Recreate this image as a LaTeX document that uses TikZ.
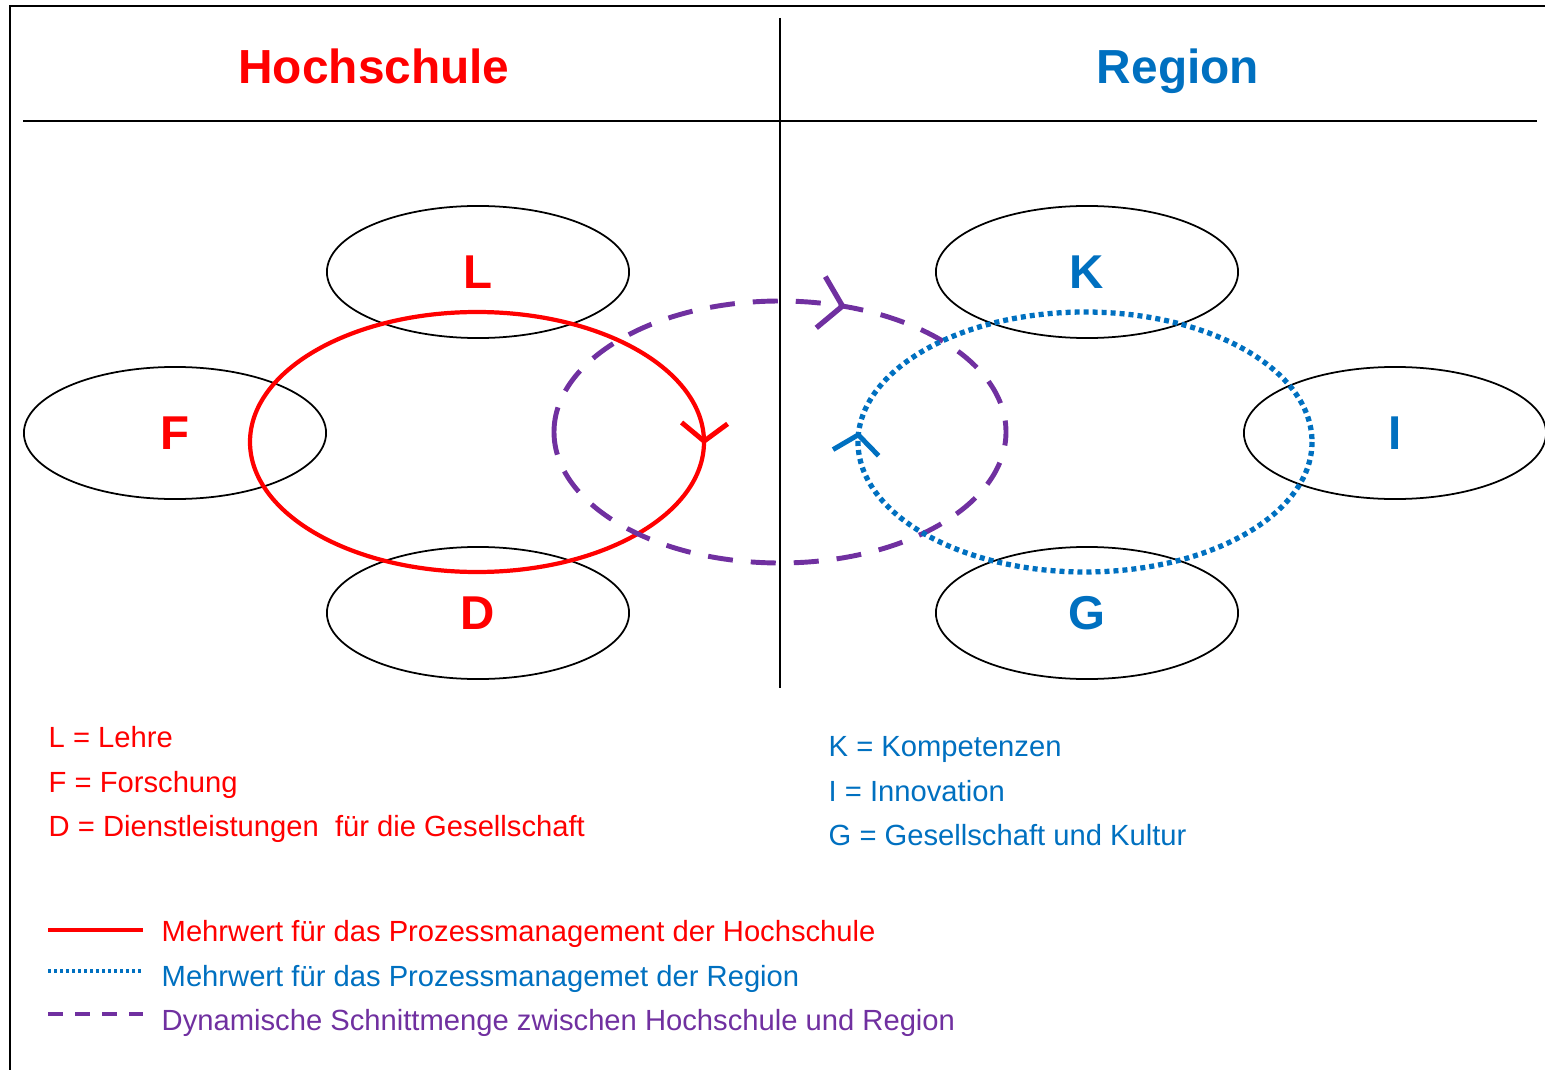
\documentclass[tikz,border=0pt]{standalone}
\usepackage{fontspec}
\setmainfont{Liberation Sans}
\usetikzlibrary{shapes.geometric,arrows.meta,decorations.markings}
\definecolor{hred}{RGB}{255,0,0}
\definecolor{rblue}{RGB}{0,112,192}
\definecolor{dpurple}{RGB}{112,48,160}
\tikzset{
  ell/.style={draw=black,line width=0.5pt,ellipse,minimum width=3.02cm,minimum height=1.32cm,inner sep=0pt,font=\fontsize{13.5}{16}\selectfont\bfseries},
  title/.style={anchor=base,inner sep=0pt,font=\fontsize{13.6}{16}\selectfont\bfseries},
  legtext/.style={anchor=base west,inner sep=0pt,font=\fontsize{8.3}{10}\selectfont},
  barb/.tip={Straight Barb[length=0.18cm,width=0.46cm,line width=1.4pt]},
  bigbarb/.tip={Straight Barb[length=0.22cm,width=0.52cm,line width=1.5pt]},
  redloop/.style={draw=hred,line width=1.2pt},
  blueloop/.style={draw=rblue,line width=1.5pt,dash pattern=on 0.05cm off 0.04cm},
  purpleloop/.style={draw=dpurple,line width=1.4pt,dash pattern=on 0.25cm off 0.18cm},
}
\begin{document}
\begin{tikzpicture}[x=0.01cm,y=0.01cm]
\useasboundingbox (0,0) rectangle (1545,-1070);
% frame and separators
\draw[line width=0.85pt] (10,-1070) -- (10,-6) -- (1545,-6);
\draw[line width=0.6pt] (23,-121) -- (1537,-121);
\draw[line width=0.6pt] (780,-18) -- (780,-688);
% titles
\node[title,text=hred] (th) at (374,-84) {Hochschule};
\node[title,text=rblue] (tr) at (1178,-84) {Region};
% ellipses
\node[ell,text=hred] (L) at (478,-272) {L};
\node[ell,text=hred] (F) at (175,-433) {F};
\node[ell,text=hred] (D) at (478,-613) {D};
\node[ell,text=rblue] (K) at (1087,-272) {K};
\node[ell,text=rblue] (I) at (1395,-433) {I};
\node[ell,text=rblue] (G) at (1087,-613) {G};
% loops
\draw[redloop,postaction={decorate,decoration={markings,mark=at position 0.252 with {\arrow[solid]{barb}}}}]
  (477,-442) ++(90:227 and 130) arc[start angle=90,end angle=-270,x radius=227,y radius=130];
\draw[purpleloop,postaction={decorate,decoration={markings,mark=at position 0.308 with {\arrow[solid]{bigbarb}}}}]
  (780,-432) ++(180:226 and 131) arc[start angle=180,end angle=-180,x radius=226,y radius=131];
\draw[blueloop,postaction={decorate,decoration={markings,mark=at position 0.509 with {\arrow[solid]{barb}}}}]
  (1085,-442) ++(0:227 and 130) arc[start angle=0,end angle=-360,x radius=227,y radius=130];
% legends left
\node[legtext,text=hred] (lL) at (48,-747) {L = Lehre};
\node[legtext,text=hred] (lF) at (48,-792) {F = Forschung};
\node[legtext,text=hred] (lD) at (48,-836) {D = Dienstleistungen\ \ für die Gesellschaft};
% legends right
\node[legtext,text=rblue] (lK) at (828,-756) {K = Kompetenzen};
\node[legtext,text=rblue] (lI) at (828,-801) {I = Innovation};
\node[legtext,text=rblue] (lG) at (828,-845) {G = Gesellschaft und Kultur};
% line legend
\coordinate (r1) at (48,-930); \coordinate (r2) at (143,-930);
\coordinate (b1) at (48,-971); \coordinate (b2) at (143,-971);
\coordinate (p1) at (48,-1014); \coordinate (p2) at (143,-1014);
\draw[draw=hred,line width=0.9pt] (r1) -- (r2);
\draw[draw=rblue,line width=0.9pt,dash pattern=on 0.03cm off 0.03cm] (b1) -- (b2);
\draw[draw=dpurple,line width=0.9pt,dash pattern=on 0.15cm off 0.12cm] (p1) -- (p2);
\node[legtext,text=hred] (t1) at (161,-941) {Mehrwert für das Prozessmanagement der Hochschule};
\node[legtext,text=rblue] (t2) at (161,-986) {Mehrwert für das Prozessmanagemet der Region};
\node[legtext,text=dpurple] (t3) at (161,-1030) {Dynamische Schnittmenge zwischen Hochschule und Region};
\end{tikzpicture}
\end{document}
